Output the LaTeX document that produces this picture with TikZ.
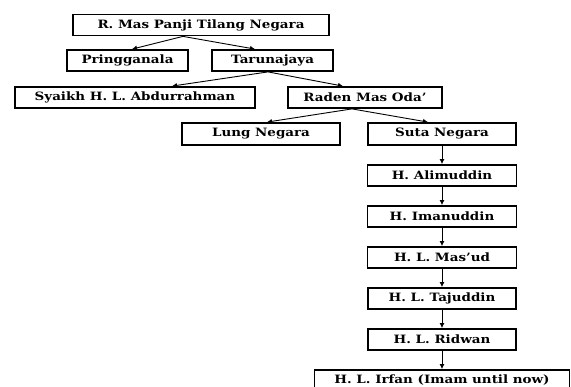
\documentclass[tikz,border=0pt]{standalone}
\usepackage{fontspec}
\usetikzlibrary{positioning,arrows.meta}
\newfontfamily\pfont{DejaVu Serif}[FakeStretch=1.17]

\begin{document}
\begin{tikzpicture}[x=1pt, y=1pt, >={Latex[length=5pt, width=5pt]},
      person/.style={draw, line width=1.8pt, minimum height=21pt, inner sep=1pt,
                     font=\pfont\bfseries\fontsize{11.5}{13}\selectfont},
      link/.style={->, line width=0.9pt}]
    \useasboundingbox (0,0) rectangle (571,-387);
    % top of the line
    \node[person, minimum width=256pt] (panji) at (201,-25) {R. Mas Panji Tilang Negara};
    \node[person, minimum width=121pt] (pring) at (127.5,-60.5) {Pringganala};
    \node[person, minimum width=121pt] (taruna) at (272.5,-60.5) {Tarunajaya};
    \node[person, minimum width=240pt] (syaikh) at (135,-97.5) {Syaikh H. L. Abdurrahman};
    \node[person, minimum width=154pt] (raden) at (365,-97.5) {Raden Mas Oda’};
    \node[person, minimum width=158pt, minimum height=22pt] (lung) at (261,-134) {Lung Negara};
    \node[person, minimum width=148pt, minimum height=22pt] (suta) at (442,-134) {Suta Negara};
    % imams, one below the other
    \node[person, minimum width=149pt, below=18.2pt of suta] (alim) {H. Alimuddin};
    \node[person, minimum width=149pt, below=18.2pt of alim] (iman) {H. Imanuddin};
    \node[person, minimum width=149pt, below=18.2pt of iman] (masud) {H. L. Mas’ud};
    \node[person, minimum width=148pt, below=18.2pt of masud] (taju) {H. L. Tajuddin};
    \node[person, minimum width=148pt, below=18.2pt of taju] (ridwan) {H. L. Ridwan};
    \node[person, minimum width=255pt, below=18.2pt of ridwan] (irfan) {H. L. Irfan (Imam until now)};
    % forks
    \coordinate (panjifork) at ([xshift=-18pt]panji.south);
    \coordinate (tarunafork) at ([xshift=-4.5pt]taruna.south);
    \coordinate (radenfork) at ([xshift=-13pt]raden.south);
    \draw[link] (panjifork) -- ([xshift=4.5pt]pring.north);
    \draw[link] (panjifork) -- ([xshift=-17.5pt]taruna.north);
    \draw[link] (tarunafork) -- ([xshift=37pt]syaikh.north);
    \draw[link] (tarunafork) -- ([xshift=-22pt]raden.north);
    \draw[link] (radenfork) -- ([xshift=6pt]lung.north);
    \draw[link] (radenfork) -- ([xshift=-14pt]suta.north);
    \draw[link] (suta) -- (alim);
    \draw[link] (alim) -- (iman);
    \draw[link] (iman) -- (masud);
    \draw[link] (masud) -- (taju);
    \draw[link] (taju) -- (ridwan);
    \draw[link] (ridwan) -- (irfan);
\end{tikzpicture}
\end{document}
